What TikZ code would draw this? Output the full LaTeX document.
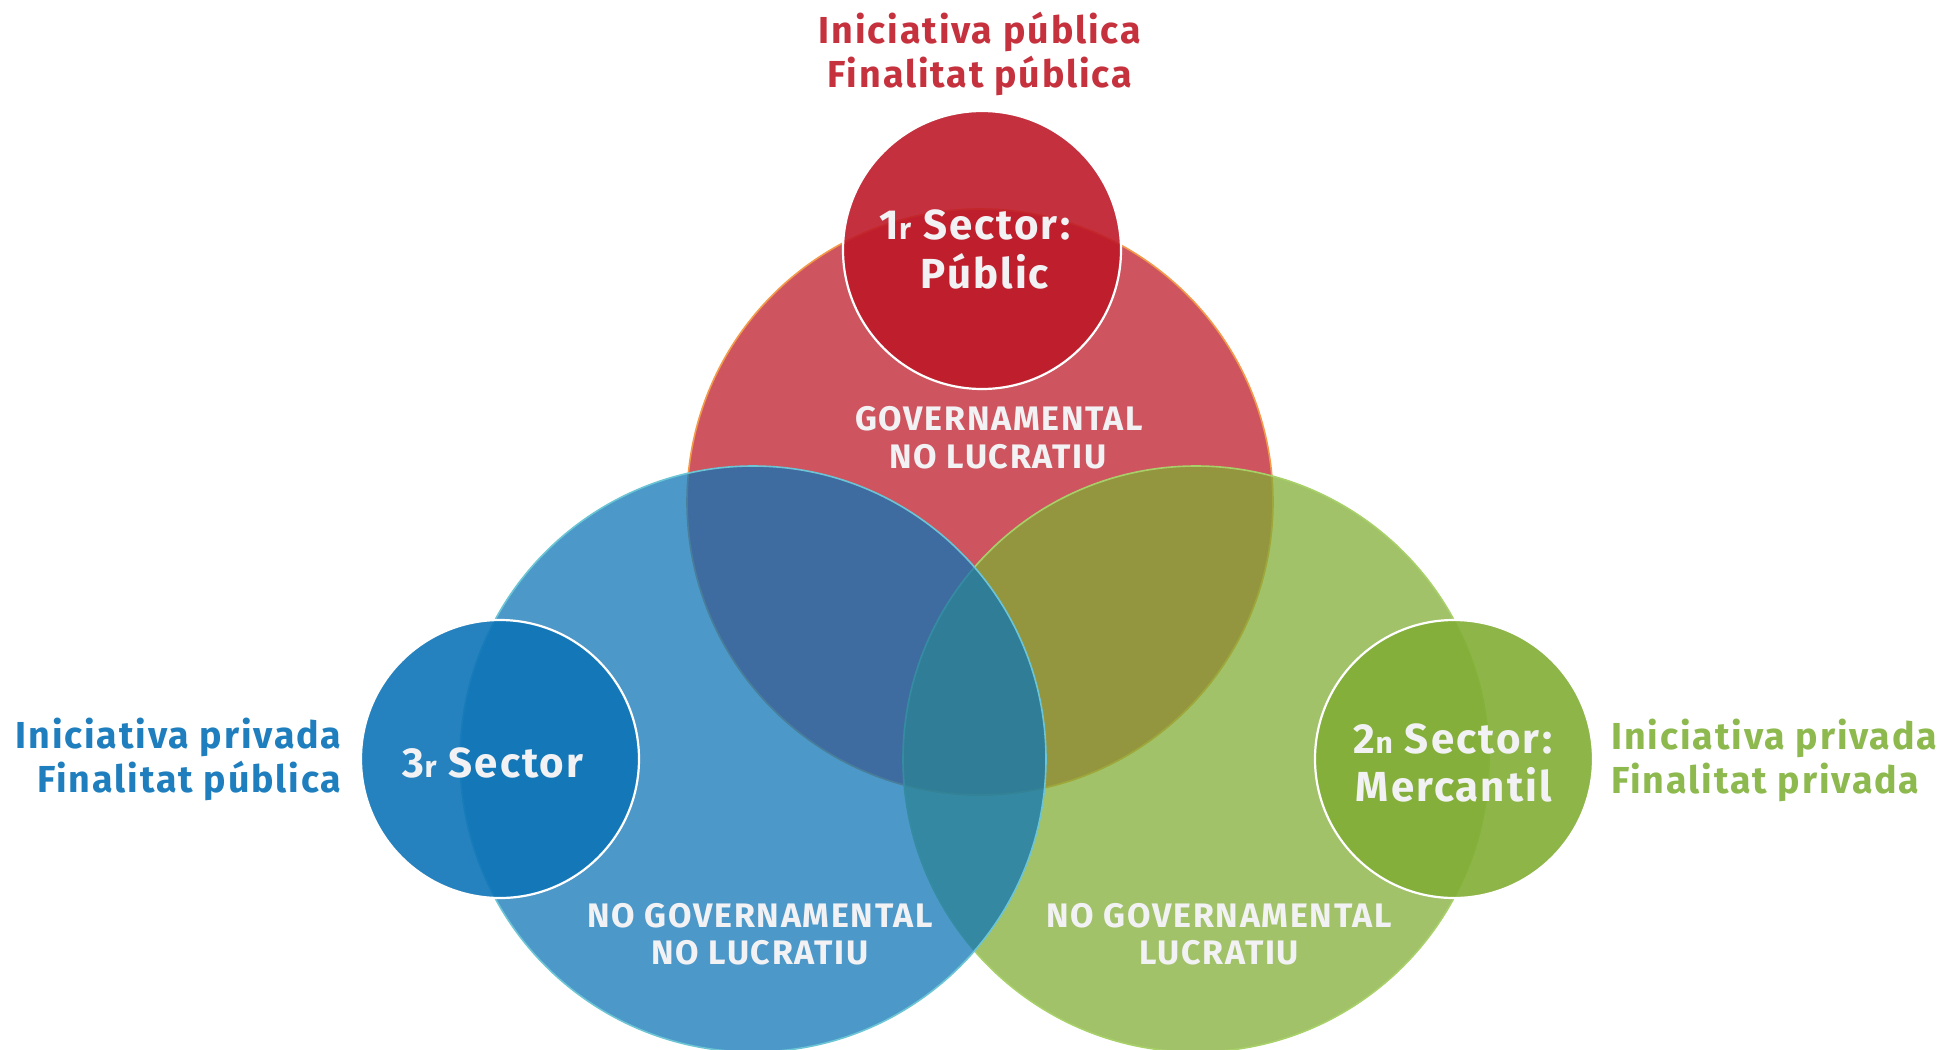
\documentclass[tikz,border=0pt]{standalone}
\usepackage{fontspec}
\setmainfont{Fira Sans}[LetterSpace=5]
\definecolor{redbase}{HTML}{BE1A28}
\definecolor{bluebase}{HTML}{0E75B7}
\definecolor{greenbase}{HTML}{81AE35}
\definecolor{redline}{HTML}{F29A4A}
\definecolor{blueline}{HTML}{6CC5D5}
\definecolor{greenline}{HTML}{A8D068}
\definecolor{redtxt}{HTML}{C6313E}
\definecolor{bluetxt}{HTML}{1F7EBD}
\definecolor{greentxt}{HTML}{8DB94F}
\definecolor{txtwhite}{HTML}{F2F2F4}
\newcommand{\smallsup}[1]{{\fontsize{15}{15}\selectfont #1}}
\begin{document}
\begin{tikzpicture}[x=0.5pt,y=-0.5pt,
  bigc/.style={circle, inner sep=0pt, outer sep=0pt, minimum size=293pt, fill opacity=0.74, line width=0.8pt},
  smallc/.style={circle, inner sep=0pt, outer sep=0pt, minimum size=139pt, fill opacity=0.9, draw=white, line width=1.1pt},
  sectorlbl/.style={font=\bfseries\fontsize{21}{24}\selectfont, text=txtwhite, anchor=base, inner sep=0pt},
  regionlbl/.style={font=\bfseries\fontsize{17}{19}\selectfont, text=txtwhite, anchor=base, inner sep=0pt},
  sidelbl/.style={font=\bfseries\fontsize{18.8}{21}\selectfont, inner sep=0pt}]
\useasboundingbox (0,0) rectangle (1940,1050);
\fill[white] (0,0) rectangle (1940,1050);
\begin{scope}
\clip (0,0) rectangle (1940,1050);
% big circles
\node[bigc, fill=redbase, draw=redline] (redbig) at (980,502) {};
\node[bigc, fill=greenbase, draw=greenline] (greenbig) at (1196,759) {};
\node[bigc, fill=bluebase, draw=blueline] (bluebig) at (753,759) {};
% small circles
\node[smallc, fill=redbase] (redsmall) at (982,250) {};
\node[smallc, fill=bluebase] (bluesmall) at (500,759) {};
\node[smallc, fill=greenbase] (greensmall) at (1454,759) {};
\end{scope}
% sector labels
\node[sectorlbl] (s1a) at (975,239) {1\smallsup{r} Sector:};
\node[sectorlbl] (s1b) at (985,288) {Públic};
\node[sectorlbl] (s3) at (493,777) {3\smallsup{r} Sector};
\node[sectorlbl] (s2a) at (1453,753) {2\smallsup{n} Sector:};
\node[sectorlbl] (s2b) at (1454,801) {Mercantil};
% region labels
\node[regionlbl] (g1) at (999,430) {GOVERNAMENTAL};
\node[regionlbl] (g2) at (998,468) {NO LUCRATIU};
\node[regionlbl] (b1) at (760,927) {NO GOVERNAMENTAL};
\node[regionlbl] (b2) at (760,964) {NO LUCRATIU};
\node[regionlbl] (v1) at (1219,927) {NO GOVERNAMENTAL};
\node[regionlbl] (v2) at (1219,964) {LUCRATIU};
% side labels
\node[sidelbl, text=redtxt, anchor=base] (t1) at (980,43) {Iniciativa pública};
\node[sidelbl, text=redtxt, anchor=base] (t2) at (980,87) {Finalitat pública};
\node[sidelbl, text=bluetxt, anchor=base east] (l1) at (342,748) {Iniciativa privada};
\node[sidelbl, text=bluetxt, anchor=base east] (l2) at (342,792) {Finalitat pública};
\node[sidelbl, text=greentxt, anchor=base west] (r1) at (1611,749) {Iniciativa privada};
\node[sidelbl, text=greentxt, anchor=base west] (r2) at (1611,793) {Finalitat privada};
\end{tikzpicture}
\end{document}
